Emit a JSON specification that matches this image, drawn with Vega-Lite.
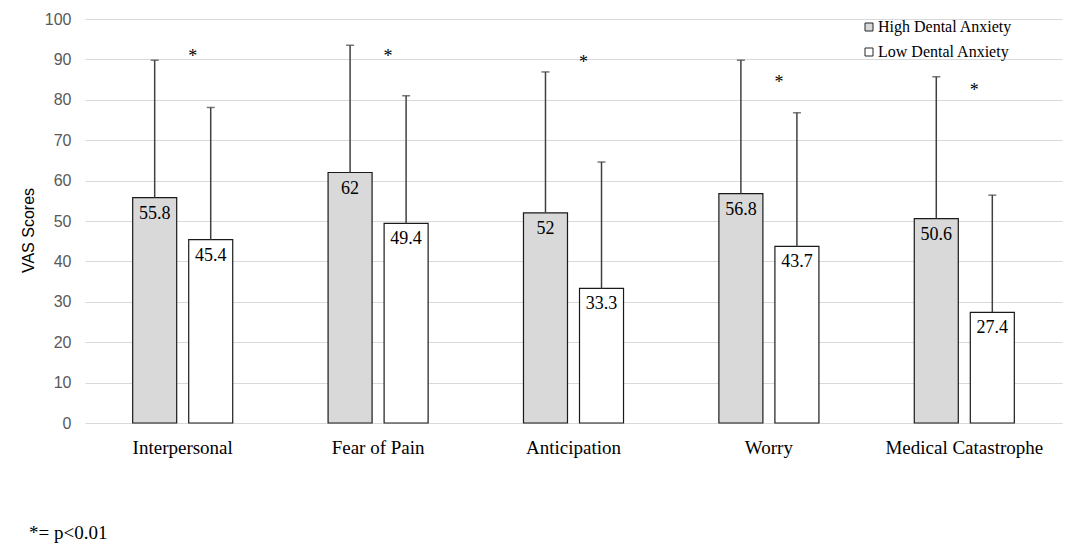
{
  "$schema": "https://vega.github.io/schema/vega-lite/v6.json",
  "width": 977,
  "height": 404,
  "autosize": {"type": "none"},
  "padding": {"left": 85, "top": 19, "right": 22, "bottom": 123},
  "background": "white",
  "config": {"view": {"stroke": null}},
  "title": {
    "text": "*= p<0.01",
    "orient": "bottom",
    "anchor": "start",
    "frame": "group",
    "font": "Liberation Serif",
    "fontSize": 19,
    "fontWeight": "normal",
    "color": "black",
    "dx": -56,
    "offset": 67
  },
  "data": {
    "values": [
      {"category": "Interpersonal", "group": "High Dental Anxiety", "score": 55.8, "upper": 89.8, "sig": null},
      {"category": "Interpersonal", "group": "Low Dental Anxiety", "score": 45.4, "upper": 78.1, "sig": 91.9},
      {"category": "Fear of Pain", "group": "High Dental Anxiety", "score": 62, "upper": 93.5, "sig": null},
      {"category": "Fear of Pain", "group": "Low Dental Anxiety", "score": 49.4, "upper": 81, "sig": 91.9},
      {"category": "Anticipation", "group": "High Dental Anxiety", "score": 52, "upper": 86.9, "sig": null},
      {"category": "Anticipation", "group": "Low Dental Anxiety", "score": 33.3, "upper": 64.6, "sig": 90.3},
      {"category": "Worry", "group": "High Dental Anxiety", "score": 56.8, "upper": 89.8, "sig": null},
      {"category": "Worry", "group": "Low Dental Anxiety", "score": 43.7, "upper": 76.8, "sig": 85.5},
      {"category": "Medical Catastrophe", "group": "High Dental Anxiety", "score": 50.6, "upper": 85.7, "sig": null},
      {"category": "Medical Catastrophe", "group": "Low Dental Anxiety", "score": 27.4, "upper": 56.4, "sig": 83.5}
    ]
  },
  "encoding": {
    "x": {
      "field": "category",
      "type": "nominal",
      "sort": null,
      "scale": {"paddingInner": 0.488, "paddingOuter": 0.244},
      "axis": {
        "title": null,
        "labelAngle": 0,
        "ticks": false,
        "domain": false,
        "labelPadding": 15,
        "labelFont": "Liberation Serif",
        "labelFontSize": 19,
        "labelColor": "black"
      }
    },
    "xOffset": {
      "field": "group",
      "type": "nominal",
      "sort": null,
      "scale": {"paddingInner": 0.2143, "paddingOuter": 0}
    }
  },
  "layer": [
    {
      "mark": {"type": "bar", "stroke": "#1a1a1a", "strokeWidth": 1.2},
      "encoding": {
        "y": {
          "field": "score",
          "type": "quantitative",
          "scale": {"domain": [0, 100]},
          "axis": {
            "title": "VAS Scores",
            "values": [0, 10, 20, 30, 40, 50, 60, 70, 80, 90, 100],
            "ticks": false,
            "domain": false,
            "grid": true,
            "gridColor": "#d9d9d9",
            "gridWidth": 1.2,
            "labelPadding": 14,
            "labelFont": "Liberation Sans",
            "labelFontSize": 16,
            "labelColor": "#595959",
            "titleFont": "Liberation Sans",
            "titleFontSize": 16,
            "titleFontWeight": "normal",
            "titleColor": "black",
            "titlePadding": 8,
            "titleY": 211
          }
        },
        "color": {
          "field": "group",
          "type": "nominal",
          "sort": null,
          "scale": {
            "domain": ["High Dental Anxiety", "Low Dental Anxiety"],
            "range": ["#d9d9d9", "#ffffff"]
          },
          "legend": {
            "title": null,
            "orient": "none",
            "legendX": 776,
            "legendY": 0,
            "padding": 0,
            "symbolType": "square",
            "symbolSize": 64,
            "symbolStrokeColor": "#262626",
            "symbolStrokeWidth": 1,
            "symbolOpacity": 1,
            "labelFont": "Liberation Serif",
            "labelFontSize": 16,
            "labelColor": "black",
            "labelOffset": 1,
            "rowPadding": 9
          }
        }
      }
    },
    {
      "mark": {"type": "rule", "color": "#404040", "strokeWidth": 1.5},
      "encoding": {
        "y": {"field": "score", "type": "quantitative"},
        "y2": {"field": "upper"}
      }
    },
    {
      "mark": {"type": "tick", "color": "#404040", "thickness": 1.5, "size": 8},
      "encoding": {
        "y": {"field": "upper", "type": "quantitative"}
      }
    },
    {
      "mark": {
        "type": "text",
        "font": "Liberation Serif",
        "fontSize": 18,
        "color": "black",
        "baseline": "alphabetic",
        "dy": 21
      },
      "encoding": {
        "y": {"field": "score", "type": "quantitative"},
        "text": {"field": "score", "type": "quantitative"}
      }
    },
    {
      "transform": [{"filter": "datum.sig != null"}],
      "mark": {
        "type": "text",
        "text": "*",
        "font": "Liberation Serif",
        "fontSize": 18,
        "color": "black",
        "baseline": "alphabetic",
        "dx": -18,
        "dy": 10
      },
      "encoding": {
        "y": {"field": "sig", "type": "quantitative"}
      }
    }
  ]
}
